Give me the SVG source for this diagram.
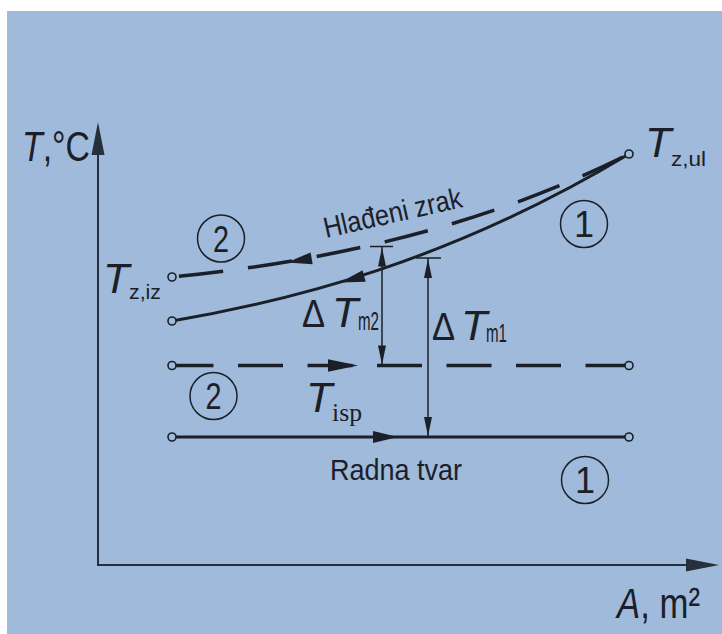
<svg xmlns="http://www.w3.org/2000/svg" xmlns:xlink="http://www.w3.org/1999/xlink" width="722" height="634" viewBox="0 0 722 634">
<style>
.ln{fill:none;stroke:#1b2028;stroke-linecap:butt}
.curve{stroke-width:3}
.dash{stroke-width:3.5}
.thin{stroke-width:1.5}
.axis{fill:none;stroke:#26303c;stroke-width:2}
.end{fill:#9fbada;stroke:#1b2028;stroke-width:1.6}
.ah{fill:#1b2028}
.ax{fill:#26303c}
.circ{fill:none;stroke:#1b2028;stroke-width:1.5}
text{font-family:"Liberation Sans",Arial,sans-serif;fill:#1b2028}
.it{font-style:italic}
.big{font-size:43px}
.sub{font-size:21px}
.msub{font-size:25px}
.delta{font-size:38px}
.num{font-size:36px;text-anchor:middle}
.lbl{font-size:30px}
.serif{font-family:"Liberation Serif","Times New Roman",serif}
</style>
<defs>
<path id="ah" d="M0,0 L-25,-6 L-25,6 Z"/>
<path id="ahs" d="M0,0 L-19,-4 L-19,4 Z"/>
<path id="aha" d="M0,0 L-33,-6.5 L-33,6.5 Z"/>
</defs>
<rect x="0" y="0" width="722" height="634" fill="#ffffff"/>
<rect x="7" y="11" width="715" height="623" fill="#9fbada"/>

<g id="axes">
<line class="axis" x1="98" y1="565" x2="98" y2="140"/>
<line class="axis" x1="97" y1="565" x2="700" y2="565"/>
<use href="#aha" class="ax" transform="translate(98,122) rotate(-90)"/>
<use href="#aha" class="ax" transform="translate(719,565)"/>
<text id="label-T" x="22" y="161" class="big" textLength="68" lengthAdjust="spacingAndGlyphs"><tspan class="it">T</tspan>,°C</text>
<text id="label-A" x="617" y="618" class="big" textLength="83" lengthAdjust="spacingAndGlyphs"><tspan class="it">A</tspan>, m²</text>
</g>

<g id="connectors">
<!-- Hlađeni zrak (2) dashed curve -->
<path class="ln dash" d="M172,277 C322,262 479,229 629,154" stroke-dasharray="44.5 25.1" stroke-dashoffset="-7"/>
<use href="#ah" class="ah" transform="translate(287,262.5) rotate(170.4)"/>
<!-- (1) solid curve -->
<path class="ln curve" d="M172,321 C291,300.6 449,262 629,154"/>
<use href="#ah" class="ah" transform="translate(340,282.5) rotate(164.9)"/>
<!-- T_isp dashed line -->
<path class="ln dash" d="M172,365.5 H629" stroke-dasharray="45 24.5" stroke-dashoffset="3.5"/>
<use href="#ah" class="ah" transform="translate(358,365.5) scale(1.2,1.05)"/>
<!-- Radna tvar solid line -->
<path class="ln curve" d="M172,437 H629"/>
<use href="#ah" class="ah" transform="translate(398,437)"/>
<!-- Delta T m2 -->
<line class="ln thin" x1="382" y1="247" x2="382" y2="364"/>
<line class="ln thin" x1="370" y1="246.5" x2="393" y2="246.5"/>
<use href="#ahs" class="ah" transform="translate(382,247.5) rotate(-90)"/>
<use href="#ahs" class="ah" transform="translate(382,364.5) rotate(90)"/>
<!-- Delta T m1 -->
<line class="ln thin" x1="428" y1="258" x2="428" y2="436"/>
<line class="ln thin" x1="416" y1="258" x2="441" y2="258"/>
<use href="#ahs" class="ah" transform="translate(428,259) rotate(-90)"/>
<use href="#ahs" class="ah" transform="translate(428,436) rotate(90)"/>
<!-- end points -->
<circle class="end" cx="172" cy="277" r="4"/>
<circle class="end" cx="172" cy="321" r="4"/>
<circle class="end" cx="629" cy="154" r="4"/>
<circle class="end" cx="172" cy="365.5" r="4"/>
<circle class="end" cx="629" cy="365.5" r="4"/>
<circle class="end" cx="172" cy="437" r="4"/>
<circle class="end" cx="629" cy="437" r="4"/>
</g>

<g id="label-hladeni">
<text x="326" y="238" font-size="29" transform="rotate(-12.75 326 238)" textLength="141" lengthAdjust="spacingAndGlyphs">Hlađeni zrak</text>
</g>

<g id="label-tziz">
<text x="103" y="293" class="big it">T</text>
<text x="129" y="299" class="sub" textLength="32" lengthAdjust="spacingAndGlyphs">z,iz</text>
</g>

<g id="label-tzul">
<text x="645" y="157" class="big it">T</text>
<text x="671" y="166" class="sub" textLength="35" lengthAdjust="spacingAndGlyphs">z,ul</text>
</g>

<g id="label-dtm2">
<text x="302" y="327" class="delta" textLength="23" lengthAdjust="spacingAndGlyphs">Δ</text>
<text x="332" y="327" class="big it">T</text>
<text x="358" y="330" class="msub" textLength="21" lengthAdjust="spacingAndGlyphs">m2</text>
</g>

<g id="label-dtm1">
<text x="432" y="340" class="delta" textLength="23" lengthAdjust="spacingAndGlyphs">Δ</text>
<text x="461" y="340" class="big it">T</text>
<text x="486" y="342" class="msub" textLength="21" lengthAdjust="spacingAndGlyphs">m1</text>
</g>

<g id="label-tisp">
<text x="306" y="412" class="big it">T</text>
<text x="332" y="421" class="serif" font-size="25" textLength="30" lengthAdjust="spacingAndGlyphs">isp</text>
</g>

<g id="label-radna">
<text x="330" y="480" class="lbl" textLength="132" lengthAdjust="spacingAndGlyphs">Radna tvar</text>
</g>

<g id="circle-2-top">
<circle class="circ" cx="221" cy="238.5" r="23.5"/>
<text x="221" y="251.5" class="num" textLength="16" lengthAdjust="spacingAndGlyphs">2</text>
</g>
<g id="circle-1-top">
<circle class="circ" cx="584" cy="224" r="23.5"/>
<text x="584" y="237" class="num">1</text>
</g>
<g id="circle-2-bottom">
<circle class="circ" cx="213.5" cy="396" r="23.5"/>
<text x="213.5" y="409" class="num" textLength="16" lengthAdjust="spacingAndGlyphs">2</text>
</g>
<g id="circle-1-bottom">
<circle class="circ" cx="585" cy="480" r="23.5"/>
<text x="585" y="493" class="num">1</text>
</g>
</svg>
